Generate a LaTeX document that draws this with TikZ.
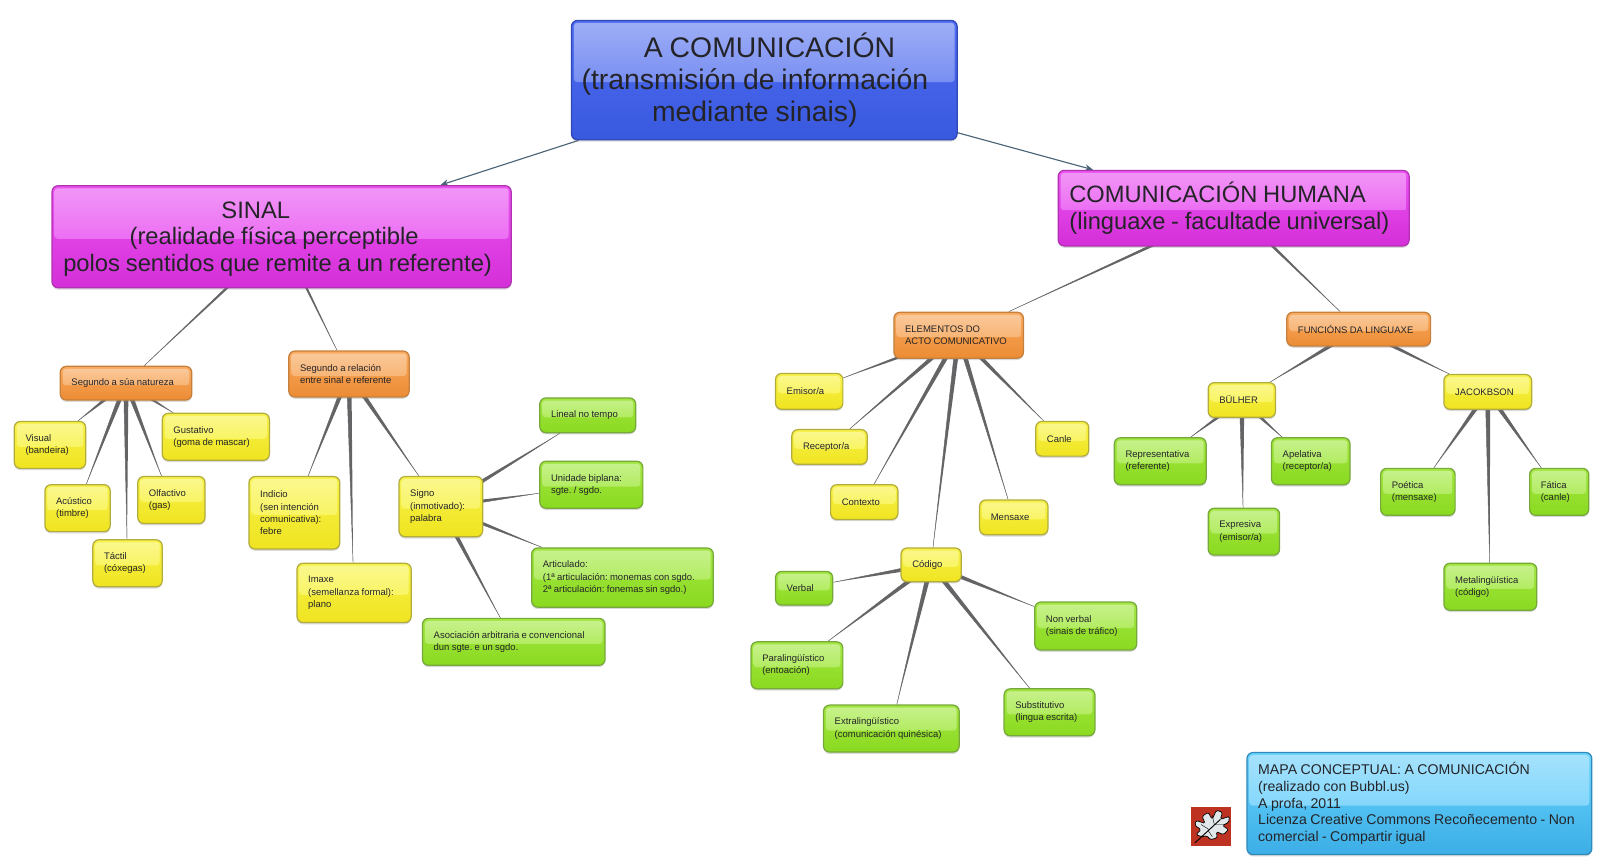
\documentclass[tikz,border=0pt]{standalone}
\usepackage{fontspec}
\setmainfont[WordSpace=.88]{Liberation Sans}
\frenchspacing
\definecolor{linkgrey}{RGB}{100, 100, 102}
\definecolor{arrowslate}{RGB}{72, 98, 118}
\definecolor{inkdark}{RGB}{36, 36, 40}
\definecolor{rootline}{RGB}{48, 72, 180}
\definecolor{roottop}{RGB}{80, 110, 242}
\definecolor{rootmid}{RGB}{62, 94, 236}
\definecolor{rootlow}{RGB}{56, 88, 222}
\definecolor{headline}{RGB}{176, 50, 176}
\definecolor{headtop}{RGB}{236, 84, 242}
\definecolor{headmid}{RGB}{228, 48, 238}
\definecolor{headlow}{RGB}{212, 47, 216}
\definecolor{branchline}{RGB}{196, 128, 60}
\definecolor{branchtop}{RGB}{250, 170, 96}
\definecolor{branchmid}{RGB}{245, 150, 60}
\definecolor{branchlow}{RGB}{236, 140, 52}
\definecolor{midline}{RGB}{178, 172, 60}
\definecolor{midtop}{RGB}{246, 242, 76}
\definecolor{midmid}{RGB}{246, 240, 34}
\definecolor{midlow}{RGB}{240, 228, 32}
\definecolor{leafline}{RGB}{118, 168, 58}
\definecolor{leaftop}{RGB}{164, 230, 66}
\definecolor{leafmid}{RGB}{146, 228, 32}
\definecolor{leaflow}{RGB}{138, 218, 32}
\definecolor{noteline}{RGB}{48, 138, 186}
\definecolor{notetop}{RGB}{104, 212, 254}
\definecolor{notemid}{RGB}{78, 198, 250}
\definecolor{notelow}{RGB}{60, 174, 230}
\definecolor{iconred}{RGB}{190, 50, 34}
\definecolor{leafpale}{RGB}{226, 232, 234}
\usetikzlibrary{
  arrows.meta,
  backgrounds,
  calc,
  shadows,
}
\tikzset{
  >={Stealth[length=8pt,width=6.5pt]},
  gloss/.style={path picture={
      \shade[top color=#1!50!white,bottom color=#1!88!white,rounded corners=3]
        ($(path picture bounding box.north west)+(2.5,2.5)$) rectangle
        ($(path picture bounding box.east)+(-2.5,2)$);
    }},
  bubble/.style n args={4}{rectangle,rounded corners=6,draw=#1,line width=1.2pt,
    top color=#2,middle color=#3,bottom color=#4,gloss=#3,
    drop shadow={shadow xshift=0pt,shadow yshift=-1.8pt,opacity=.3},
    text=inkdark,align=flush left,inner sep=0pt},
  smalltext/.style={font=\fontsize{9.3}{12}\selectfont},
  rootbox/.style={bubble={rootline}{roottop}{rootmid}{rootlow},
    font=\fontsize{27.8}{31.5}\selectfont},
  headbox/.style={bubble={headline}{headtop}{headmid}{headlow}},
  branchbox/.style={bubble={branchline}{branchtop}{branchmid}{branchlow},smalltext},
  midbox/.style={bubble={midline}{midtop}{midmid}{midlow},smalltext},
  leafbox/.style={bubble={leafline}{leaftop}{leafmid}{leaflow},smalltext},
  notebox/.style={bubble={noteline}{notetop}{notemid}{notelow},
    font=\fontsize{13.85}{16.3}\selectfont},
  link/.style={draw=linkgrey,line width=.45pt,fill=linkgrey,
    to path={($(\tikztostart)!#1!90:(\tikztotarget)$) --
      ($(\tikztostart)!#1!-90:(\tikztotarget)$) -- (\tikztotarget) -- cycle}},
  link/.default=2.4pt,
  arrowlink/.style={->,draw=arrowslate,line width=1.1pt},
}
\begin{document}
\begin{tikzpicture}[x=1pt,y=-1pt]
  \path[use as bounding box] (0,0) rectangle (1568,845);

  % top of the map
  \node[rootbox,minimum width=378,minimum height=117,text width=358] (root) at (749,78.5)
    {\hspace*{61pt}A COMUNICACIÓN\\(transmisión de información\\\hspace*{69pt}mediante sinais)};
  \node[headbox,minimum width=450,minimum height=100,text width=428,font=\fontsize{23.3}{26}\selectfont] (sinal) at (276,232)
    {\rule{0pt}{21pt}\hspace*{155pt}SINAL\\\hspace*{65pt}(realidade física perceptible\\polos sentidos que remite a un referente)};
  \node[headbox,minimum width=344,minimum height=74,text width=322,font=\fontsize{23.2}{27}\selectfont] (humana) at (1209,204)
    {COMUNICACIÓN HUMANA\\(linguaxe - facultade universal)};

  % left side
  \node[branchbox,minimum width=129,minimum height=33,text width=107] (natureza) at (123.5,375.5) {Segundo a súa natureza};
  \node[branchbox,minimum width=118,minimum height=45,text width=96] (relacion) at (342,366.5) {Segundo a relación\\entre sinal e referente};
  \node[midbox,minimum width=70,minimum height=46,text width=48] (visual) at (49,436) {Visual\\(bandeira)};
  \node[midbox,minimum width=64,minimum height=46,text width=42] (acustico) at (76,498) {Acústico\\(timbre)};
  \node[midbox,minimum width=68,minimum height=46,text width=46] (tactil) at (125,552) {Táctil\\(cóxegas)};
  \node[midbox,minimum width=66,minimum height=46,text width=44] (olfactivo) at (168,490) {Olfactivo\\(gas)};
  \node[midbox,minimum width=105,minimum height=46,text width=83] (gustativo) at (211.5,428) {Gustativo\\(goma de mascar)};
  \node[midbox,minimum width=89,minimum height=71,text width=67] (indicio) at (288.5,502.5) {Indicio\\(sen intención\\comunicativa):\\febre};
  \node[midbox,minimum width=112,minimum height=58,text width=90] (imaxe) at (347,581) {Imaxe\\(semellanza formal):\\plano};
  \node[midbox,minimum width=82,minimum height=59,text width=60] (signo) at (432,496.5) {Signo\\(inmotivado):\\palabra};
  \node[leafbox,minimum width=94,minimum height=34,text width=72] (lineal) at (576,407) {Lineal no tempo};
  \node[leafbox,minimum width=101,minimum height=46,text width=79] (biplana) at (579.5,475) {Unidade biplana:\\sgte. / sgdo.};
  \node[leafbox,minimum width=178,minimum height=58,text width=156] (articulado) at (610,566) {Articulado:\\(1ª articulación: monemas con sgdo.\\2ª articulación: fonemas sin sgdo.)};
  \node[leafbox,minimum width=179,minimum height=46,text width=157] (asociacion) at (503.5,629) {Asociación arbitraria e convencional\\dun sgte. e un sgdo.};

  % elements of the act
  \node[branchbox,minimum width=127,minimum height=45,text width=105] (elementos) at (939.5,328.5) {ELEMENTOS DO\\ACTO COMUNICATIVO};
  \node[midbox,minimum width=66,minimum height=35,text width=44] (emisor) at (793,383.5) {Emisor/a};
  \node[midbox,minimum width=74,minimum height=34,text width=52] (receptor) at (813,438) {Receptor/a};
  \node[midbox,minimum width=66,minimum height=34,text width=44] (contexto) at (847,492) {Contexto};
  \node[midbox,minimum width=59,minimum height=33,text width=37] (codigo) at (912.5,553.5) {Código};
  \node[midbox,minimum width=67,minimum height=34,text width=45] (mensaxe) at (993.5,507) {Mensaxe};
  \node[midbox,minimum width=52,minimum height=34,text width=30] (canle) at (1041,430) {Canle};
  \node[leafbox,minimum width=56,minimum height=33,text width=34] (verbal) at (788,576.5) {Verbal};
  \node[leafbox,minimum width=90,minimum height=46,text width=68] (paraling) at (781,652) {Paralingüístico\\(entoación)};
  \node[leafbox,minimum width=133,minimum height=46,text width=111] (extraling) at (873.5,714) {Extralingüístico\\(comunicación quinésica)};
  \node[leafbox,minimum width=89,minimum height=46,text width=67] (substitutivo) at (1028.5,698) {Substitutivo\\(lingua escrita)};
  \node[leafbox,minimum width=100,minimum height=47,text width=78] (nonverbal) at (1064,613.5) {Non verbal\\(sinais de tráfico)};

  % language functions
  \node[branchbox,minimum width=141,minimum height=33,text width=119] (funcions) at (1331.5,322.5) {FUNCIÓNS DA LINGUAXE};
  \node[midbox,minimum width=66,minimum height=34,text width=44] (bulher) at (1217,392) {BÜLHER};
  \node[midbox,minimum width=86,minimum height=34,text width=64] (jacobson) at (1458,384) {JACOKBSON};
  \node[leafbox,minimum width=90,minimum height=46,text width=68] (representativa) at (1137,452) {Representativa\\(referente)};
  \node[leafbox,minimum width=70,minimum height=46,text width=48] (expresiva) at (1219,521) {Expresiva\\(emisor/a)};
  \node[leafbox,minimum width=77,minimum height=46,text width=55] (apelativa) at (1284.5,452) {Apelativa\\(receptor/a)};
  \node[leafbox,minimum width=73,minimum height=46,text width=51] (poetica) at (1389.5,482) {Poética\\(mensaxe)};
  \node[leafbox,minimum width=91,minimum height=46,text width=69] (metaling) at (1460.5,575) {Metalingüística\\(código)};
  \node[leafbox,minimum width=58,minimum height=46,text width=36] (fatica) at (1528,482) {Fática\\(canle)};

  % credits
  \node[notebox,minimum width=338,minimum height=100,text width=316] (nota) at (1391,787.5)
    {MAPA CONCEPTUAL: A COMUNICACIÓN\\(realizado con Bubbl.us)\\A profa, 2011\\Licenza Creative Commons Recoñecemento - Non\\comercial - Compartir igual};
  \node[rectangle,fill=iconred,minimum width=39,minimum height=38,inner sep=0pt] (icono) at (1186.5,810) {};
  \draw[fill=leafpale,line width=.7pt,rounded corners=1.5] (1178,820) -- (1172,818) -- (1177,813) -- (1171,809) -- (1172,804) -- (1181,807) -- (1178,800) -- (1184,796) -- (1188,803) -- (1192,794) -- (1198,796) -- (1196,803) -- (1205,800) -- (1204,806) -- (1198,809) -- (1204,813) -- (1199,818) -- (1192,815) -- (1193,821) -- (1186,823) -- (1183,819) -- cycle;
  \draw[line width=.9pt] (1171,826) -- (1196,803);
  \draw[line width=.4pt] (1185,813) -- (1177,808) (1190,808) -- (1188,799) (1190,808) -- (1200,808) (1184,814) -- (1188,820);

  \begin{scope}[on background layer]
    \draw[arrowlink] (root) -- (sinal);
    \draw[arrowlink] (root) -- (humana);
    \draw[link=1.7pt] (sinal) to (natureza);
    \draw[link=1.7pt] (sinal) to (relacion);
    \draw[link=1.9pt] (humana) to (elementos);
    \draw[link=1.9pt] (humana) to (funcions);
    \foreach \from/\to in {natureza/visual,natureza/acustico,natureza/tactil,natureza/olfactivo,natureza/gustativo,
        relacion/indicio,relacion/imaxe,relacion/signo,
        signo/lineal,signo/biplana,signo/articulado,signo/asociacion,
        elementos/emisor,elementos/receptor,elementos/contexto,elementos/codigo,elementos/mensaxe,elementos/canle,
        codigo/verbal,codigo/paraling,codigo/extraling,codigo/substitutivo,codigo/nonverbal,
        funcions/bulher,funcions/jacobson,
        bulher/representativa,bulher/expresiva,bulher/apelativa,
        jacobson/poetica,jacobson/metaling,jacobson/fatica}
      \draw[link] (\from) to (\to);
  \end{scope}
\end{tikzpicture}
\end{document}
